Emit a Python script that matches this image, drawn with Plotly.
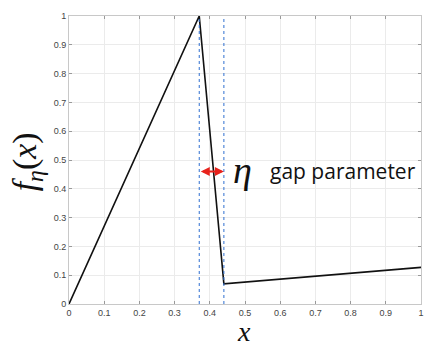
import plotly.graph_objects as go

x_vals = [0.0, 0.37, 0.44, 1.0]
y_vals = [0.0, 1.0, 0.07, 0.127]
gap_lines = [0.37, 0.44]
arrow_y = 0.46
tick_vals = [0, 0.1, 0.2, 0.3, 0.4, 0.5, 0.6, 0.7, 0.8, 0.9, 1]
tick_text = ["0", "0.1", "0.2", "0.3", "0.4", "0.5", "0.6", "0.7", "0.8", "0.9", "1"]

W, H = 425, 346
l, r, t, b = 69, 1, 16, 42
pw, ph = W - l - r, H - t - b


def px2paper(px, py):
    return (px - l) / pw, 1 - (py - t) / ph


fig = go.Figure()
fig.add_trace(go.Scatter(x=x_vals, y=y_vals, mode="lines",
                         line=dict(color="#111111", width=1.6), showlegend=False))
for gx in gap_lines:
    fig.add_trace(go.Scatter(x=[gx, gx], y=[0, 1], mode="lines",
                             line=dict(color="#2f6fd0", width=1, dash="dot"), showlegend=False))

# red double-headed arrow
fig.add_annotation(x=gap_lines[1], y=arrow_y, ax=gap_lines[0], ay=arrow_y,
                   xref="x", yref="y", axref="x", ayref="y", text="",
                   showarrow=True, arrowhead=2, arrowside="end+start",
                   arrowsize=1, arrowwidth=1.8, arrowcolor="#e8231c",
                   startarrowhead=2, startarrowsize=1)

serif = "Liberation Serif"
labels = [
    (244, 170, "η", dict(family=serif, size=38, color="#111", style="italic"), 0),
    (345, 171, "gap parameter", dict(family="Open Sans", size=21, color="#111"), 0),
    (27, 162, "<i>f</i><sub><i>η</i></sub>(<i>x</i>)", dict(family=serif, size=34, color="#111"), -90),
    (245, 331, "x", dict(family=serif, size=28, color="#111", style="italic"), 0),
]
for px, py, txt, font, ang in labels:
    ax_, ay_ = px2paper(px, py)
    fig.add_annotation(x=ax_, y=ay_, xref="paper", yref="paper", text=txt,
                       showarrow=False, font=font, textangle=ang,
                       xanchor="center", yanchor="middle")

axis_common = dict(tickvals=tick_vals, ticktext=tick_text, range=[0, 1],
                   showgrid=True, gridcolor="#ebebeb", gridwidth=1,
                   showline=True, linecolor="#c8c8c8", linewidth=1, mirror="ticks",
                   ticks="inside", ticklen=3, tickcolor="#999",
                   tickfont=dict(family="Liberation Sans", size=9, color="#444"),
                   ticklabeloverflow="allow",
                   zeroline=False, fixedrange=True)
fig.update_xaxes(**axis_common)
fig.update_yaxes(**axis_common)

fig.update_layout(
    width=W, height=H,
    margin=dict(l=l, r=r, t=t, b=b),
    paper_bgcolor="white", plot_bgcolor="white",
)

fig.write_html("out.html")
